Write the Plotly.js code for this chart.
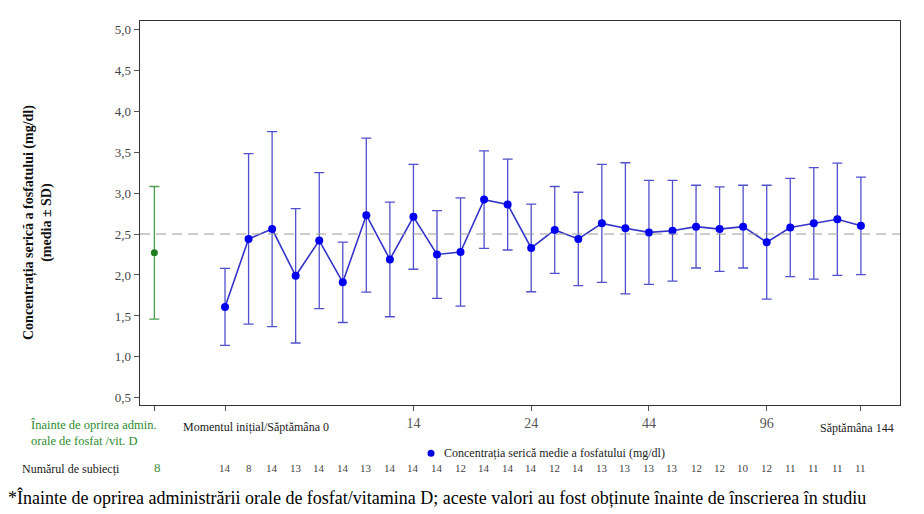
<!DOCTYPE html>
<html>
<head>
<meta charset="utf-8">
<script src="https://cdn.plot.ly/plotly-3.0.1.min.js"></script>
<style>
  html, body { margin: 0; padding: 0; background: #fff; }
  #chart { width: 924px; height: 514px; }
</style>
</head>
<body>
<div id="chart"></div>
<script>
// Visit slots along the x axis (0 = baseline, 27 = week 144)
const visitSlots = [0, 1, 2, 3, 4, 5, 6, 7, 8, 9, 10, 11, 12, 13, 14, 15, 16, 17, 18, 19, 20, 21, 22, 23, 24, 25, 26, 27];
// Mean serum phosphate (mg/dl) per visit
const meanPhosphate = [1.61, 2.44, 2.56, 1.99, 2.42, 1.91, 2.73, 2.19, 2.71, 2.25, 2.28, 2.92, 2.86, 2.33,
                       2.55, 2.44, 2.63, 2.57, 2.52, 2.54, 2.59, 2.56, 2.59, 2.40, 2.58, 2.63, 2.68, 2.60];
// Standard deviation per visit
const sdPhosphate = [0.47, 1.04, 1.19, 0.82, 0.83, 0.49, 0.94, 0.70, 0.64, 0.535, 0.66, 0.595, 0.555, 0.535,
                     0.53, 0.57, 0.72, 0.80, 0.635, 0.615, 0.505, 0.515, 0.505, 0.695, 0.60, 0.68, 0.685, 0.595];
// Number of subjects per visit
const subjectCounts = [14, 8, 14, 13, 14, 14, 13, 14, 14, 14, 12, 14, 14, 14,
                       12, 14, 13, 13, 13, 13, 12, 12, 10, 12, 11, 11, 11, 11];

// Value before stopping oral phosphate / vitamin D
const preSlot = [-3];
const preMean = [2.27];
const preSd = [0.81];
const preCount = [8];

// Reference line
const refLevel = 2.5;

// Week labels on the x axis
const weekTickSlots = [-3, 0, 8, 13, 18, 23, 27];
const weekTickText = ['', '', '14', '24', '44', '96', ''];
const baselineLabel = 'Momentul inițial/Săptămâna 0';
const lastWeekLabel = 'Săptămâna 144';
const preLabel = 'Înainte de oprirea admin.<br>orale de fosfat /vit. D';
const yTitle = '<b>Concentrația serică a fosfatului (mg/dl)<br>(media ± SD)</b>';

const yTicks = [0.5, 1.0, 1.5, 2.0, 2.5, 3.0, 3.5, 4.0, 4.5, 5.0];

const serif = '"Liberation Serif", "Times New Roman", Times, serif';

const traces = [
  {
    x: preSlot, y: preMean, type: 'scatter', mode: 'markers',
    marker: { color: '#1b7d1b', size: 7 },
    error_y: { type: 'data', array: preSd, visible: true, color: '#4f9e4f', thickness: 1.3, width: 5 },
    showlegend: false, hoverinfo: 'skip'
  },
  {
    x: visitSlots, y: meanPhosphate, type: 'scatter', mode: 'lines+markers',
    line: { color: '#3434c8', width: 1.6 },
    marker: { color: '#0000f0', size: 8 },
    error_y: { type: 'data', array: sdPhosphate, visible: true, color: '#5050cc', thickness: 1.3, width: 5 },
    showlegend: false, hoverinfo: 'skip'
  }
];

const annotations = [];
// Y-axis title, placed by hand so it sits a little below the plot centre
annotations.push({ x: 0, y: 0.5, xref: 'paper', yref: 'paper', xanchor: 'center', yanchor: 'middle',
  xshift: -102, yshift: -10, textangle: -90, text: yTitle, showarrow: false,
  font: { family: serif, size: 14, color: '#111' } });

// Long x-axis labels
annotations.push({ x: 0, y: 0, xref: 'x', yref: 'paper', yanchor: 'middle', xanchor: 'left',
  xshift: -44, yshift: -22, text: baselineLabel, showarrow: false,
  font: { family: serif, size: 12, color: '#222' } });
annotations.push({ x: 27, y: 0, xref: 'x', yref: 'paper', yanchor: 'middle', xanchor: 'center',
  xshift: -4, yshift: -23, text: lastWeekLabel, showarrow: false,
  font: { family: serif, size: 12, color: '#222' } });
annotations.push({ x: -3, y: 0, xref: 'x', yref: 'paper', yanchor: 'top', xanchor: 'right',
  xshift: 5, yshift: -11, text: preLabel, showarrow: false, align: 'left',
  font: { family: serif, size: 12.5, color: '#2e8b2e' } });

// Legend entry
annotations.push({ x: 0, y: 0, xref: 'paper', yref: 'paper', xanchor: 'left', yanchor: 'middle',
  xshift: 302, yshift: -48, text: 'Concentrația serică medie a fosfatului (mg/dl)', showarrow: false,
  font: { family: serif, size: 12, color: '#222' } });

// Subject count row
annotations.push({ x: 0, y: 0, xref: 'paper', yref: 'paper', xanchor: 'left', yanchor: 'middle',
  xshift: -120, yshift: -64, text: 'Numărul de subiecți', showarrow: false,
  font: { family: serif, size: 12, color: '#222' } });
preSlot.forEach((s, i) => annotations.push({ x: s, y: 0, xref: 'x', yref: 'paper', yanchor: 'middle',
  xshift: 3, yshift: -62, text: String(preCount[i]), showarrow: false,
  font: { family: serif, size: 13, color: '#3c8f3c' } }));
visitSlots.forEach((s, i) => annotations.push({ x: s, y: 0, xref: 'x', yref: 'paper', yanchor: 'middle',
  yshift: -63, text: String(subjectCounts[i]), showarrow: false,
  font: { family: serif, size: 11, color: '#444' } }));

// Footnote
annotations.push({ x: 0, y: 0, xref: 'paper', yref: 'paper', xanchor: 'left', yanchor: 'middle',
  xshift: -134, yshift: -92,
  text: '*Înainte de oprirea administrării orale de fosfat/vitamina D; aceste valori au fost obținute înainte de înscrierea în studiu',
  showarrow: false, font: { family: serif, size: 18, color: '#000' } });

const layout = {
  width: 924, height: 514,
  margin: { l: 140, r: 24, t: 21, b: 109 },
  paper_bgcolor: '#fff', plot_bgcolor: '#fff',
  separators: ', ',
  showlegend: false,
  font: { family: serif },
  xaxis: {
    range: [-3.61, 28.66], tickmode: 'array', tickvals: weekTickSlots, ticktext: weekTickText,
    ticks: 'outside', ticklen: 5, tickcolor: '#555', tickwidth: 1,
    showline: true, linecolor: '#333', linewidth: 1.3, mirror: true,
    showgrid: false, zeroline: false,
    tickfont: { family: serif, size: 14, color: '#555' }
  },
  yaxis: {
    range: [0.413, 5.10], tickmode: 'array', tickvals: yTicks, tickformat: '.1f',
    ticks: 'outside', ticklen: 5, tickcolor: '#555', tickwidth: 1,
    showline: true, linecolor: '#333', linewidth: 1.3, mirror: true,
    showgrid: false, zeroline: false,
    tickfont: { family: serif, size: 13, color: '#444' }
  },
  shapes: [
    { type: 'line', xref: 'paper', yref: 'y', x0: 0, x1: 1, y0: refLevel, y1: refLevel,
      line: { color: '#9a9a9a', width: 1.2, dash: '10px,6px' } },
    { type: 'circle', xref: 'paper', yref: 'paper',
      xsizemode: 'pixel', ysizemode: 'pixel', xanchor: 0.3829, yanchor: -0.1255,
      x0: -3.5, x1: 3.5, y0: -3.5, y1: 3.5,
      fillcolor: '#0000e0', line: { width: 0 } }
  ],
  annotations: annotations
};

Plotly.newPlot('chart', traces, layout, { displayModeBar: false, staticPlot: true });
</script>
</body>
</html>
